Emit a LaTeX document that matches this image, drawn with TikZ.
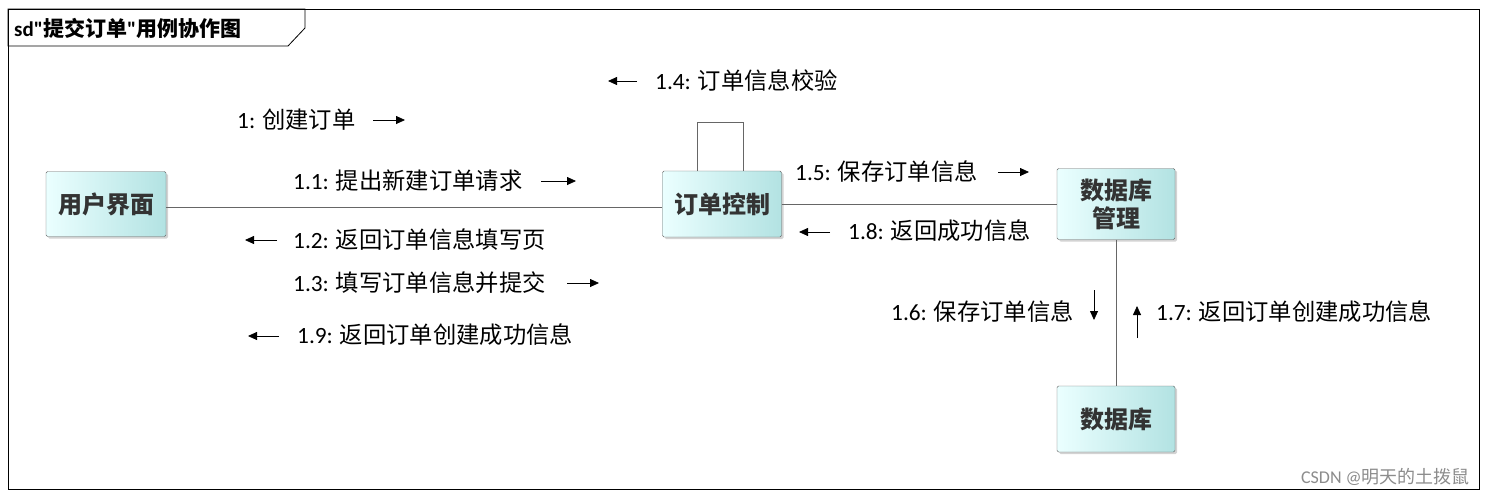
\documentclass[tikz,border=0pt]{standalone}
\usepackage{fontspec}
\setmainfont{Carlito}
\newfontfamily\plainlat{Carlito}
\newfontfamily\cjk{Noto Sans CJK SC}
\usetikzlibrary{arrows.meta,shadows}
\begin{document}
\begin{tikzpicture}[x=1pt,y=-1pt,
  obj/.style={draw=black!60,rounded corners=1.5pt,left color=cyan!8,right color=cyan!25!teal!30,
    drop shadow={shadow xshift=2pt,shadow yshift=-2pt,opacity=0.35},font=\cjk\fontsize{24}{28}\selectfont\bfseries,
    text=black!80,align=center,inner sep=0pt},
  lab/.style={anchor=west,inner sep=0pt,font=\fontsize{23.3}{25}\selectfont},
  msg/.style={-{Triangle[length=9pt,width=8pt]},line width=0.8pt},
  link/.style={draw=black!60,line width=0.6pt}]
\useasboundingbox (0,0) rectangle (1487,496);
\draw[line width=0.8pt] (8,9) rectangle (1479,489);
\draw[line width=0.8pt] (8,9)--(305,9)--(305,28)--(288,46)--(8,46)--cycle;
\node[anchor=west,inner sep=0pt,font=\plainlat\fontsize{21}{24}\selectfont\bfseries] (title) at (14,28) {sd"{\cjk 提交订单}"{\cjk 用例协作图}};
% nodes
\node[obj,minimum width=120pt,minimum height=65pt] (ui) at (106,204) {用户界面};
\node[obj,minimum width=119pt,minimum height=66pt] (ctl) at (722,204) {订单控制};
\node[obj,minimum width=118pt,minimum height=71pt] (dbm) at (1116,204) {数据库\\管理};
\node[obj,minimum width=118pt,minimum height=66pt] (db) at (1116,419) {数据库};
% links
\draw[link] (ui.east|-0,207) -- (ctl.west|-0,207);
\draw[link] (ctl.east|-0,204) -- (dbm.west|-0,204);
\draw[link] (dbm.south) -- (db.north);
\coordinate (la) at (697,122); \coordinate (lb) at (743,122);
\draw[link] (ctl.north-|la) -- (la) -- (lb) -- (ctl.north-|lb);
% labels
\node[lab] (m14) at (655,81) {1.4: {\cjk 订单信息校验}};
\coordinate (a14s) at (637,81); \coordinate (a14e) at (608,81);
\draw[msg] (a14s) -- (a14e);
\node[lab] (m1) at (237,120) {1: {\cjk 创建订单}};
\coordinate (a1s) at (373,120); \coordinate (a1e) at (405,120);
\draw[msg] (a1s) -- (a1e);
\node[lab] (m11) at (293,181) {1.1: {\cjk 提出新建订单请求}};
\coordinate (a11s) at (541,181); \coordinate (a11e) at (576,181);
\draw[msg] (a11s) -- (a11e);
\node[lab] (m12) at (293,240) {1.2: {\cjk 返回订单信息填写页}};
\coordinate (a12s) at (277,240); \coordinate (a12e) at (245,240);
\draw[msg] (a12s) -- (a12e);
\node[lab] (m13) at (293,283) {1.3: {\cjk 填写订单信息并提交}};
\coordinate (a13s) at (567,283); \coordinate (a13e) at (599,283);
\draw[msg] (a13s) -- (a13e);
\node[lab] (m19) at (297,335) {1.9: {\cjk 返回订单创建成功信息}};
\coordinate (a19s) at (279,336); \coordinate (a19e) at (248,336);
\draw[msg] (a19s) -- (a19e);
\node[lab] (m15) at (795,172) {1.5: {\cjk 保存订单信息}};
\coordinate (a15s) at (998,172); \coordinate (a15e) at (1029,172);
\draw[msg] (a15s) -- (a15e);
\node[lab] (m18) at (848,231) {1.8: {\cjk 返回成功信息}};
\coordinate (a18s) at (830,232); \coordinate (a18e) at (799,232);
\draw[msg] (a18s) -- (a18e);
\node[lab] (m16) at (891,312) {1.6: {\cjk 保存订单信息}};
\coordinate (a16s) at (1094,290); \coordinate (a16e) at (1094,320);
\draw[msg] (a16s) -- (a16e);
\node[lab] (m17) at (1156,312) {1.7: {\cjk 返回订单创建成功信息}};
\coordinate (a17s) at (1137,338); \coordinate (a17e) at (1137,306);
\draw[msg] (a17s) -- (a17e);
\node[anchor=east,inner sep=0pt,text=black!45,font=\fontsize{18}{20}\selectfont] (wm) at (1470,477) {CSDN @{\cjk 明天的土拨鼠}};
\end{tikzpicture}
\end{document}
